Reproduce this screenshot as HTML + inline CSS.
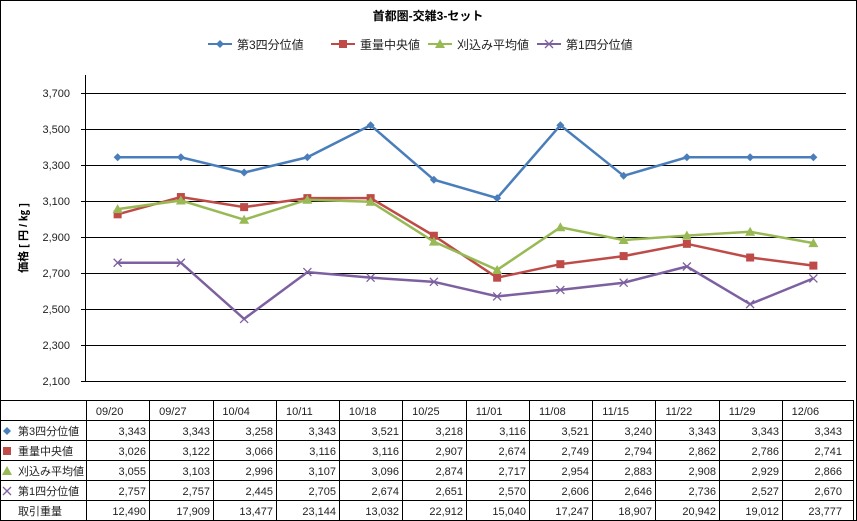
<!DOCTYPE html>
<html><head><meta charset="utf-8"><style>
body{margin:0;background:#fff}
svg{display:block;font-family:"Liberation Sans","Noto Sans CJK JP",sans-serif}
</style></head><body>
<svg id="c" width="857" height="521" xmlns="http://www.w3.org/2000/svg"></svg>
<script>
const categories=["09/20","09/27","10/04","10/11","10/18","10/25","11/01","11/08","11/15","11/22","11/29","12/06"];
const q3=[3343,3343,3258,3343,3521,3218,3116,3521,3240,3343,3343,3343];
const med=[3026,3122,3066,3116,3116,2907,2674,2749,2794,2862,2786,2741];
const avg=[3055,3103,2996,3107,3096,2874,2717,2954,2883,2908,2929,2866];
const q1=[2757,2757,2445,2705,2674,2651,2570,2606,2646,2736,2527,2670];
const vol=[12490,17909,13477,23144,13032,22912,15040,17247,18907,20942,19012,23777];
const yTicks=[2100,2300,2500,2700,2900,3100,3300,3500,3700];
const names=["第3四分位値","重量中央値","刈込み平均値","第1四分位値"];
const colors=["#4a7ebb","#be4b48","#98b954","#7d60a0"];
const series=[q3,med,avg,q1];
const svg=document.getElementById('c');const NS="http://www.w3.org/2000/svg";
function mk(t,a,p,name,txt){const e=document.createElementNS(NS,t);for(const k in a)e.setAttribute(k,a[k]);


if(txt!==undefined)e.textContent=txt;(p||svg).appendChild(e);return e;}
const x0=86,cw=63.25,yB=381;
const X=i=>x0+cw*(i+0.5);
const Y=v=>yB-(v-2100)*0.18;
const fmt=v=>v.toLocaleString('en-US');
mk('rect',{x:0.5,y:0.5,width:856,height:520,fill:'#fff',stroke:'#000'},svg,'chart-border');
mk('text',{x:428,y:20,'text-anchor':'middle','font-size':12,'font-weight':'bold'},svg,'chart-title','首都圏-交雑3-セット');
// legend
const lx=[208,331,428,537];
names.forEach((n,s)=>{const g=mk('g',{},svg,'legend-entry');
mk('line',{x1:lx[s],y1:44,x2:lx[s]+24,y2:44,stroke:colors[s],'stroke-width':2},g,'legend-line');
marker(g,s,lx[s]+12,44);
mk('text',{x:lx[s]+29,y:49,'font-size':12,fill:'#222'},g,'legend-label',n);});
// axes
mk('line',{x1:85.5,y1:75,x2:85.5,y2:381,stroke:'#000'},svg,'y-axis');
yTicks.forEach(v=>{mk('line',{x1:81,y1:Y(v)+0.5,x2:846,y2:Y(v)+0.5,stroke:'#000'},svg,'gridline');
mk('text',{x:70,y:Y(v)+4,'text-anchor':'end','font-size':11,fill:'#222'},svg,'y-tick-label',fmt(v));});
mk('text',{transform:'translate(27,238) rotate(-90)','text-anchor':'middle','font-size':11,'font-weight':'bold'},svg,'y-axis-title','価格 [ 円 / ㎏ ]');
function marker(p,s,x,y){const c=colors[s];
if(s===0)mk('path',{d:`M${x} ${y-4}L${x+4} ${y}L${x} ${y+4}L${x-4} ${y}Z`,fill:c},p,'marker-diamond');
else if(s===1)mk('rect',{x:x-4,y:y-4,width:8,height:8,fill:c},p,'marker-square');
else if(s===2)mk('path',{d:`M${x} ${y-5}L${x+5} ${y+4}L${x-5} ${y+4}Z`,fill:c},p,'marker-triangle');
else mk('path',{d:`M${x-4} ${y-4}L${x+4} ${y+4}M${x+4} ${y-4}L${x-4} ${y+4}`,stroke:c,'stroke-width':1.3},p,'marker-x');}
series.forEach((d,s)=>{const g=mk('g',{},svg,'series-'+(s+1));
mk('polyline',{points:d.map((v,i)=>X(i)+','+Y(v)).join(' '),fill:'none',stroke:colors[s],'stroke-width':2.5},g,'series-line');
d.forEach((v,i)=>marker(g,s,X(i),Y(v)));});
// table
const tg=mk('g',{},svg,'data-table');
const rowsY=[400,420,440,460,480,500,520];
rowsY.forEach(y=>mk('line',{x1:0,y1:y+0.5,x2:853,y2:y+0.5,stroke:'#000'},tg,'table-row-line'));
mk('line',{x1:86.5,y1:400,x2:86.5,y2:521,stroke:'#000'},tg,'table-col-line');
for(let i=1;i<=12;i++){const xx=i===12?853.5:Math.round(x0+cw*i)+0.5;mk('line',{x1:xx,y1:400,x2:xx,y2:521,stroke:'#000'},tg,'table-col-line');}
categories.forEach((c,i)=>mk('text',{x:X(i)-8,y:415,'text-anchor':'middle','font-size':11,fill:'#222'},tg,'x-category-label',c));
const rows=[q3,med,avg,q1,vol];const rn=names.concat(["取引重量"]);
rows.forEach((r,k)=>{const y=rowsY[k+1]+15;
if(k<4)marker(tg,k,7,y-4);
mk('text',{x:18,y:y,'font-size':11,fill:'#222'},tg,'row-label',rn[k]);
r.forEach((v,i)=>{const xr=(i===11?Math.round(x0+cw*12):Math.round(x0+cw*(i+1)))-3;
mk('text',{x:xr,y:y,'text-anchor':'end','font-size':11,fill:'#222'},tg,'table-value',fmt(v));});});
</script>
</body></html>
